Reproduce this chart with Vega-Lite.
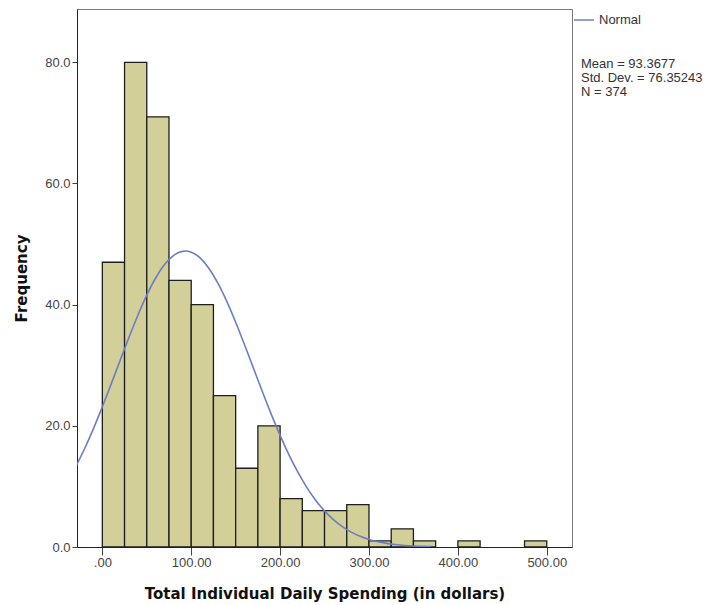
{
  "$schema": "https://vega.github.io/schema/vega-lite/v6.json",
  "width": 495,
  "height": 538,
  "autosize": "none",
  "padding": {"left": 77, "top": 9, "right": 136, "bottom": 58},
  "background": "#ffffff",
  "config": {
    "view": {"fill": "#f0f0f0", "stroke": "#7a7a7a", "strokeWidth": 1},
    "font": "Liberation Sans",
    "axis": {
      "grid": false,
      "labelFont": "Liberation Sans",
      "labelFontSize": 13,
      "labelColor": "#444444",
      "tickColor": "#444444",
      "domainColor": "#222222",
      "titleFont": "DejaVu Sans",
      "titleFontWeight": "bold",
      "titleFontSize": 15,
      "titleColor": "#111111"
    }
  },
  "datasets": {
    "bins": [
      {"bin_start": 0, "bin_end": 25, "count": 47},
      {"bin_start": 25, "bin_end": 50, "count": 80},
      {"bin_start": 50, "bin_end": 75, "count": 71},
      {"bin_start": 75, "bin_end": 100, "count": 44},
      {"bin_start": 100, "bin_end": 125, "count": 40},
      {"bin_start": 125, "bin_end": 150, "count": 25},
      {"bin_start": 150, "bin_end": 175, "count": 13},
      {"bin_start": 175, "bin_end": 200, "count": 20},
      {"bin_start": 200, "bin_end": 225, "count": 8},
      {"bin_start": 225, "bin_end": 250, "count": 6},
      {"bin_start": 250, "bin_end": 275, "count": 6},
      {"bin_start": 275, "bin_end": 300, "count": 7},
      {"bin_start": 300, "bin_end": 325, "count": 1},
      {"bin_start": 325, "bin_end": 350, "count": 3},
      {"bin_start": 350, "bin_end": 375, "count": 1},
      {"bin_start": 400, "bin_end": 425, "count": 1},
      {"bin_start": 475, "bin_end": 500, "count": 1}
    ],
    "curve": [
      {"x": -30, "y": 13.24, "series": "Normal"},
      {"x": -20, "y": 16.22, "series": "Normal"},
      {"x": -10, "y": 19.54, "series": "Normal"},
      {"x": 0, "y": 23.13, "series": "Normal"},
      {"x": 10, "y": 26.92, "series": "Normal"},
      {"x": 20, "y": 30.79, "series": "Normal"},
      {"x": 30, "y": 34.62, "series": "Normal"},
      {"x": 40, "y": 38.26, "series": "Normal"},
      {"x": 50, "y": 41.57, "series": "Normal"},
      {"x": 60, "y": 44.4, "series": "Normal"},
      {"x": 70, "y": 46.62, "series": "Normal"},
      {"x": 80, "y": 48.11, "series": "Normal"},
      {"x": 90, "y": 48.8, "series": "Normal"},
      {"x": 93.37, "y": 48.85, "series": "Normal"},
      {"x": 100, "y": 48.67, "series": "Normal"},
      {"x": 110, "y": 47.71, "series": "Normal"},
      {"x": 120, "y": 45.97, "series": "Normal"},
      {"x": 130, "y": 43.54, "series": "Normal"},
      {"x": 140, "y": 40.54, "series": "Normal"},
      {"x": 150, "y": 37.1, "series": "Normal"},
      {"x": 160, "y": 33.38, "series": "Normal"},
      {"x": 170, "y": 29.52, "series": "Normal"},
      {"x": 180, "y": 25.66, "series": "Normal"},
      {"x": 190, "y": 21.93, "series": "Normal"},
      {"x": 200, "y": 18.42, "series": "Normal"},
      {"x": 210, "y": 15.21, "series": "Normal"},
      {"x": 220, "y": 12.35, "series": "Normal"},
      {"x": 230, "y": 9.85, "series": "Normal"},
      {"x": 240, "y": 7.73, "series": "Normal"},
      {"x": 250, "y": 5.96, "series": "Normal"},
      {"x": 260, "y": 4.52, "series": "Normal"},
      {"x": 270, "y": 3.36, "series": "Normal"},
      {"x": 280, "y": 2.46, "series": "Normal"},
      {"x": 290, "y": 1.77, "series": "Normal"},
      {"x": 300, "y": 1.25, "series": "Normal"},
      {"x": 310, "y": 0.87, "series": "Normal"},
      {"x": 320, "y": 0.6, "series": "Normal"},
      {"x": 330, "y": 0.4, "series": "Normal"},
      {"x": 340, "y": 0.26, "series": "Normal"},
      {"x": 350, "y": 0.17, "series": "Normal"},
      {"x": 360, "y": 0.11, "series": "Normal"},
      {"x": 370, "y": 0.07, "series": "Normal"}
    ],
    "stats": [
      {"stat": "Mean = 93.3677"},
      {"stat": "Std. Dev. = 76.35243"},
      {"stat": "N = 374"}
    ]
  },
  "layer": [
    {
      "data": {"name": "bins"},
      "mark": {"type": "bar", "fill": "#d3cf98", "stroke": "#1e1e1e", "strokeWidth": 1.3},
      "encoding": {
        "x": {
          "field": "bin_start",
          "type": "quantitative",
          "scale": {"domain": [-28.5, 528.4], "nice": false, "zero": false},
          "axis": {
            "title": "Total Individual Daily Spending (in dollars)",
            "values": [0, 100, 200, 300, 400, 500],
            "labelExpr": "datum.value == 0 ? '.00' : format(datum.value, '.2f')",
            "tickSize": 8,
            "labelPadding": 1,
            "titlePadding": 17
          }
        },
        "x2": {"field": "bin_end"},
        "y": {
          "field": "count",
          "type": "quantitative",
          "scale": {"domain": [0, 88.8], "nice": false},
          "axis": {
            "title": "Frequency",
            "values": [0, 20, 40, 60, 80],
            "format": ".1f",
            "tickSize": 5,
            "labelPadding": 2,
            "titlePadding": 15
          }
        },
        "y2": {"datum": 0}
      }
    },
    {
      "data": {"name": "curve"},
      "mark": {"type": "line", "strokeWidth": 1.6, "clip": true, "interpolate": "monotone"},
      "encoding": {
        "x": {"field": "x", "type": "quantitative"},
        "y": {"field": "y", "type": "quantitative"},
        "color": {
          "field": "series",
          "type": "nominal",
          "scale": {"range": ["#6a7ec4"]},
          "legend": {
            "title": null,
            "orient": "none",
            "legendX": 496,
            "legendY": 0,
            "symbolType": "stroke",
            "symbolSize": 400,
            "symbolStrokeWidth": 1.5,
            "labelFont": "Liberation Sans",
            "labelFontSize": 13,
            "labelColor": "#333333",
            "labelOffset": 4
          }
        }
      }
    },
    {
      "data": {"name": "stats"},
      "mark": {"type": "point", "opacity": 0, "size": 0},
      "encoding": {
        "fill": {
          "field": "stat",
          "type": "nominal",
          "sort": null,
          "scale": {"range": ["#ffffff"]},
          "legend": {
            "title": null,
            "orient": "none",
            "legendX": 491,
            "legendY": 48,
            "symbolSize": 0,
            "symbolOpacity": 0,
            "symbolStrokeWidth": 0,
            "labelOffset": 0,
            "rowPadding": -3,
            "labelFont": "Liberation Sans",
            "labelFontSize": 13,
            "labelColor": "#333333",
            "labelLimit": 200
          }
        }
      }
    }
  ]
}
